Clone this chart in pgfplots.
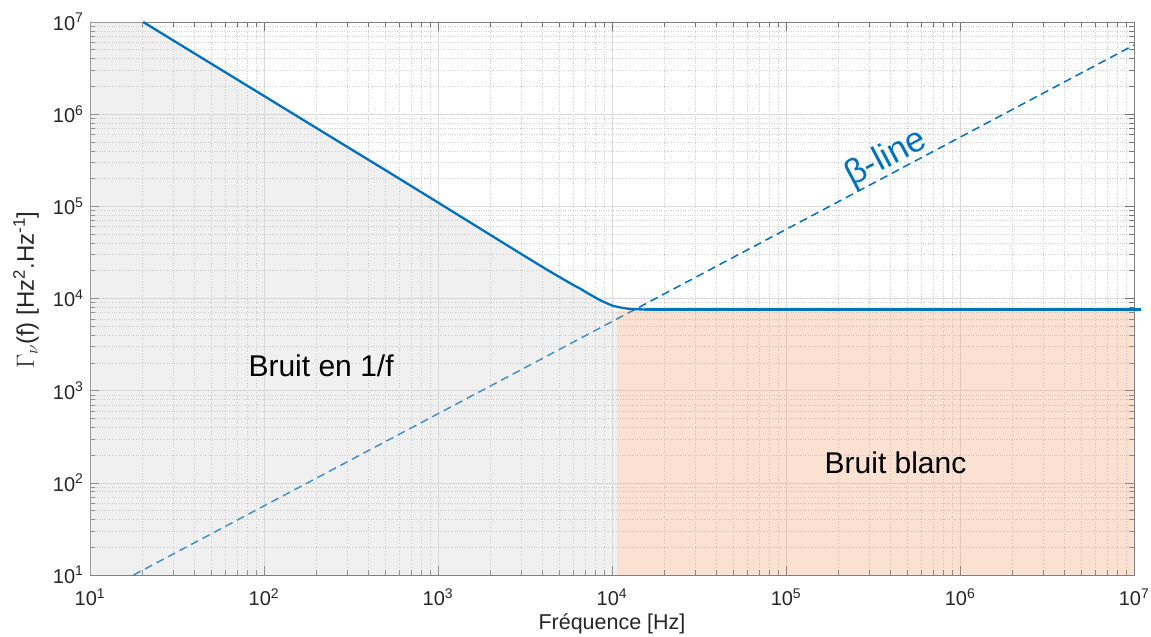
\documentclass[border=0pt]{standalone}
\usepackage{fontspec}
\setmainfont{Liberation Sans}
\usepackage{pgfplots}
\pgfplotsset{compat=1.18}
\definecolor{mblue}{RGB}{0,114,189}
\definecolor{gfill}{RGB}{210,210,210}
\definecolor{ofill}{RGB}{240,165,120}
\begin{document}
\begin{tikzpicture}
\useasboundingbox (-90pt,-62pt) rectangle (1061pt,575pt);
\begin{axis}[
  xmode=log, ymode=log,
  scale only axis, width=1044pt, height=553pt,
  xmin=10, xmax=1e7, ymin=10, ymax=1e7,
  clip=false,
  xtick={1e1,1e2,1e3,1e4,1e5,1e6,1e7},
  xticklabels={10\textsuperscript{1},10\textsuperscript{2},10\textsuperscript{3},10\textsuperscript{4},10\textsuperscript{5},10\textsuperscript{6},10\textsuperscript{7}},
  ytick={1e1,1e2,1e3,1e4,1e5,1e6,1e7},
  yticklabels={10\textsuperscript{1},10\textsuperscript{2},10\textsuperscript{3},10\textsuperscript{4},10\textsuperscript{5},10\textsuperscript{6},10\textsuperscript{7}},
  minor xtick={20,30,40,50,60,70,80,90,200,300,400,500,600,700,800,900,2000,3000,4000,5000,6000,7000,8000,9000,2e4,3e4,4e4,5e4,6e4,7e4,8e4,9e4,2e5,3e5,4e5,5e5,6e5,7e5,8e5,9e5,2e6,3e6,4e6,5e6,6e6,7e6,8e6,9e6},
  minor ytick={20,30,40,50,60,70,80,90,200,300,400,500,600,700,800,900,2000,3000,4000,5000,6000,7000,8000,9000,2e4,3e4,4e4,5e4,6e4,7e4,8e4,9e4,2e5,3e5,4e5,5e5,6e5,7e5,8e5,9e5,2e6,3e6,4e6,5e6,6e6,7e6,8e6,9e6},
  grid=both,
  major grid style={draw=black!14, line width=0.6pt},
  minor grid style={draw=black!18, dotted, line width=0.6pt},
  tick align=inside,
  major tick length=9pt, minor tick length=5pt,
  every tick/.style={black!55, line width=0.6pt},
  axis line style={black!50, line width=0.8pt},
  tick label style={font=\fontsize{20}{22}\selectfont, text=black!85},
  xticklabel style={anchor=base, yshift=-31pt},
  yticklabel style={xshift=-3pt},
  xlabel={Fréquence [Hz]},
  ylabel={$\Gamma_{\nu}$(f) [Hz\textsuperscript{2}.Hz\textsuperscript{-1}]},
  xlabel style={at={(axis description cs:0.5,0)}, anchor=base, yshift=-54pt, font=\fontsize{21.5}{24}\selectfont, text=black!85},
  ylabel style={at={(axis description cs:-0.0613,0.515)}, anchor=center, font=\fontsize{24}{28}\selectfont, text=black!85},
]
% beta-line
\addplot[mblue, line width=1.5pt, dash pattern=on 8pt off 5pt] coordinates {(17.8,10) (1e7,5.6185e6)};
% 1/f region
\addplot[draw=none, fill=gfill, fill opacity=0.333] coordinates {(10,10) (10,1e7) (20.2,1e7) (1.07e4,7060) (1.07e4,10) (10,10)};
% white noise region
\addplot[draw=none, fill=ofill, fill opacity=0.333] coordinates {(1.07e4,10) (1.07e4,7400) (1e7,7400) (1e7,10) (1.07e4,10)};
% noise curve
\addplot[mblue, line width=2.3pt] coordinates {
(20.2,1e7) (50,3.51e6) (100,1.577e6) (200,7.08e5) (500,2.46e5) (1000,1.10e5)
(2000,4.9e4) (3000,3.05e4) (4217,2.06e4) (5300,1.6e4) (6000,1.4e4) (6550,1.28e4)
(7500,1.1e4) (8530,9.6e3) (9300,8.9e3) (1.014e4,8.3e3) (1.15e4,7.9e3) (1.268e4,7.7e3)
(1.45e4,7.62e3) (1.65e4,7.6e3)};
\addplot[mblue, line width=2.3pt] coordinates {(1.55e4,7600) (1.09e7,7600)};
% labels
\node[anchor=base, font=\fontsize{30}{36}\selectfont] at (axis cs:212.9,1442) {Bruit en 1/f};
\node[anchor=base, font=\fontsize{30}{36}\selectfont] at (axis cs:4.26e5,127) {Bruit blanc};
\node[rotate=27.9, text=mblue, inner sep=0pt, font=\fontsize{35}{40}\selectfont] at (axis cs:3.76e5,3.3e5) {β-line};
\end{axis}
\end{tikzpicture}
\end{document}
